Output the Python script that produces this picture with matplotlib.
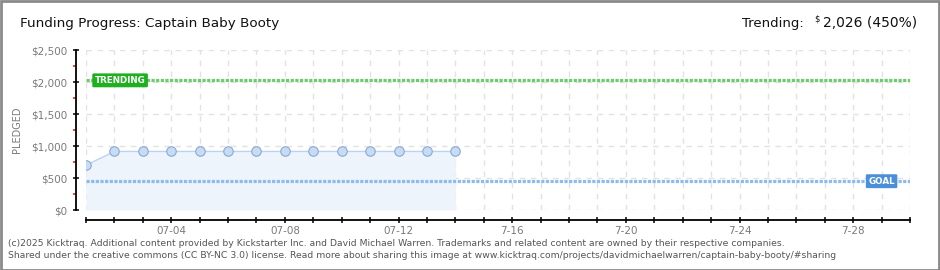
"""Kicktraq-style funding progress chart for Captain Baby Booty."""

import matplotlib

matplotlib.use("Agg")

import matplotlib.pyplot as plt
from matplotlib.patches import Rectangle
from matplotlib.ticker import MultipleLocator, FixedLocator, FixedFormatter

# --- data --------------------------------------------------------------
DAY_LABELS = [f"07-{d:02d}" for d in range(1, 31)]   # 07-01 .. 07-30
PLEDGE_DAYS = list(range(14))                          # 07-01 .. 07-14
PLEDGED = [700, 915, 915, 915, 915, 915, 915, 915, 915, 915, 915, 915, 915, 915]
GOAL = 450
TRENDING = 2026
TICK_LABEL_POS = [3, 7, 11, 15, 19, 23, 27]
TICK_LABELS = ["07-04", "07-08", "07-12", "7-16", "7-20", "7-24", "7-28"]
Y_TICKS = [0, 500, 1000, 1500, 2000, 2500]
Y_LABELS = ["$0", "$500", "$1,000", "$1,500", "$2,000", "$2,500"]

W, H = 940, 270
DPI = 100
PX = 72 / DPI  # points per pixel

LINE_BLUE = "#b9d3f0"
FILL_BLUE = "#eef4fc"
GOAL_BLUE = "#4a8fd9"
TREND_GREEN = "#1fb01f"
GRID = "#e2e2e2"
TICK_GRAY = "#7a7a7a"

fig = plt.figure(figsize=(W / DPI, H / DPI), dpi=DPI)
fig.patch.set_facecolor("white")

# plot area: x 86..910 px, y 50..210 px
ax = fig.add_axes([86 / W, (H - 210) / H, 824 / W, 160 / H])
ax.set_xlim(0, len(DAY_LABELS) - 1)
ax.set_ylim(0, 2500)

# grid
for d in range(len(DAY_LABELS)):
    ax.axvline(d, color=GRID, lw=1, ls=(0, (4, 4)), zorder=0)
for v in Y_TICKS:
    ax.axhline(v, color=GRID, lw=1, ls=(0, (4, 4)), zorder=0)

# pledged area + line
ax.fill_between(PLEDGE_DAYS, PLEDGED, 0, color=FILL_BLUE, lw=0, zorder=1)
ax.plot(PLEDGE_DAYS, PLEDGED, color=LINE_BLUE, lw=1, zorder=3,
        marker="o", markersize=9.5 * PX, markerfacecolor="#c6dcf6",
        markeredgecolor="#8ea9cd", markeredgewidth=0.8)

# goal + trending dotted lines
ax.axhline(GOAL, color="#8cbbec", lw=3.2 * PX, ls=(0, (1.0, 0.45)),
           dash_capstyle="butt", zorder=2)
ax.axhline(TRENDING, color="#6dcb6d", lw=3.2 * PX, ls=(0, (1.0, 0.45)),
           dash_capstyle="butt", zorder=2)

# labels on lines
ax.text(1.2, TRENDING, "TRENDING", color="white", fontsize=6.3,
        fontweight="bold", ha="center", va="center", zorder=5,
        bbox=dict(boxstyle="round,pad=0.28,rounding_size=0.15",
                  fc=TREND_GREEN, ec="none"))
ax.text(28.0, GOAL, "GOAL", color="white", fontsize=6.3, fontweight="bold",
        ha="center", va="center", zorder=5,
        bbox=dict(boxstyle="round,pad=0.28,rounding_size=0.15",
                  fc=GOAL_BLUE, ec="none"))

# spines
for s in ("top", "right"):
    ax.spines[s].set_visible(False)
ax.spines["left"].set_position(("outward", 10 * PX))
ax.spines["bottom"].set_position(("outward", 10 * PX))
ax.spines["left"].set_linewidth(1.3)
ax.spines["bottom"].set_linewidth(1.3)

# y ticks
ax.yaxis.set_major_locator(FixedLocator(Y_TICKS))
ax.yaxis.set_major_formatter(FixedFormatter([l.replace("$", r"\$") for l in Y_LABELS]))
ax.yaxis.set_minor_locator(MultipleLocator(250))
ax.tick_params(axis="y", which="major", direction="inout", length=4.5,
               width=1.1, color="black", labelsize=7.5, labelcolor=TICK_GRAY, pad=4)
ax.tick_params(axis="y", which="minor", direction="out", length=2.5,
               width=1.1, color="#e01010")

# x ticks
ax.xaxis.set_major_locator(FixedLocator(range(len(DAY_LABELS))))
xlabels = [""] * len(DAY_LABELS)
for p, lab in zip(TICK_LABEL_POS, TICK_LABELS):
    xlabels[p] = lab
ax.xaxis.set_major_formatter(FixedFormatter(xlabels))
ax.tick_params(axis="x", which="major", direction="inout", length=5,
               width=1.1, color="black", labelsize=7.5, labelcolor=TICK_GRAY, pad=1.5)

ax.set_ylabel("PLEDGED", fontsize=7, color=TICK_GRAY)
ax.yaxis.set_label_coords(-64 / 824, 0.5)

# header
fig.text(20 / W, 1 - 23 / H, "Funding Progress: Captain Baby Booty",
         fontsize=9.7, color="#111111", ha="left", va="center")
fig.text(917 / W, 1 - 23 / H, "2,026 (450%)", fontsize=10,
         color="#111111", ha="right", va="center")
fig.text(820 / W, 1 - 19 / H, r"\$", fontsize=6, color="#111111",
         ha="right", va="center")
fig.text(804 / W, 1 - 23 / H, "Trending:", fontsize=9.5, color="#111111",
         ha="right", va="center")

# footer
fig.text(8 / W, 1 - 243 / H,
         "(c)2025 Kicktraq. Additional content provided by Kickstarter Inc. and "
         "David Michael Warren. Trademarks and related content are owned by "
         "their respective companies.",
         fontsize=6.65, color="#555555", ha="left", va="center")
fig.text(8 / W, 1 - 256 / H,
         "Shared under the creative commons (CC BY-NC 3.0) license. Read more "
         "about sharing this image at "
         "www.kicktraq.com/projects/davidmichaelwarren/captain-baby-booty/#sharing",
         fontsize=6.65, color="#555555", ha="left", va="center")

# frame
fig.add_artist(Rectangle((0.5 / W, 0.5 / H), 1 - 1.5 / W, 1 - 1.5 / H,
                         transform=fig.transFigure, fill=False,
                         ec="#8a8a8a", lw=2))

fig.savefig("out.png", dpi=DPI, facecolor="white")
